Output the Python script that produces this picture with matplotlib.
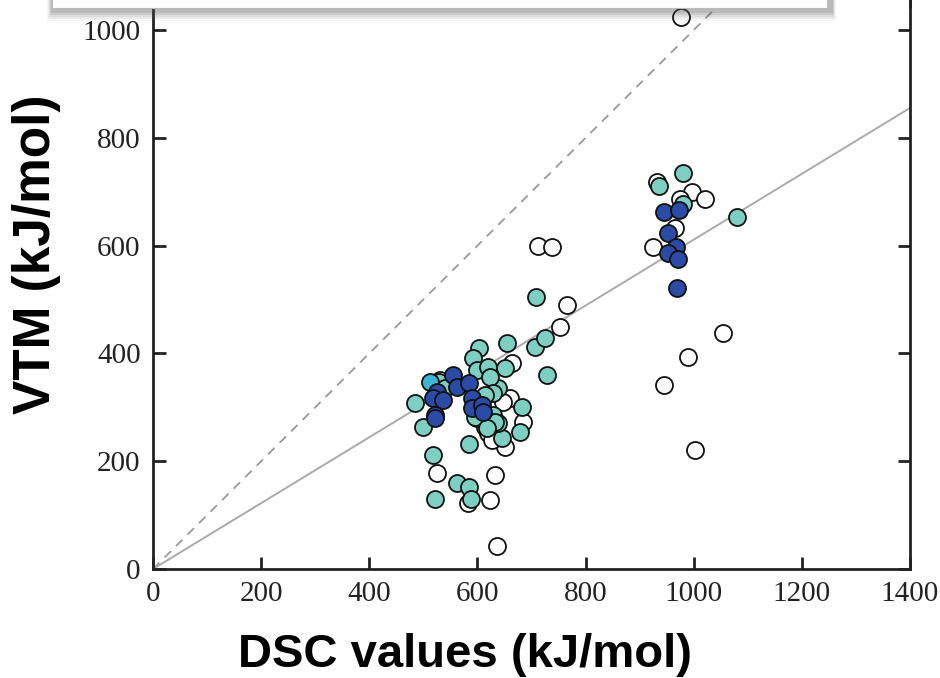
import numpy as np
import matplotlib
matplotlib.use("Agg")
import matplotlib.pyplot as plt
from matplotlib.patches import Rectangle

# open circles
white_dsc = [976, 932, 997, 1021, 975, 965, 925, 945, 990, 1054, 1002, 712, 738, 765, 753,
             664, 660, 684, 651, 633, 623, 636, 525, 583, 614, 620, 648, 600, 626, 530]
white_vtm = [1024, 718, 700, 686, 686, 633, 597, 341, 393, 438, 221, 599, 597, 490, 449,
             382, 317, 273, 226, 174, 128, 43, 178, 122, 263, 252, 310, 280, 240, 350]

# teal circles
teal_dsc = [980, 936, 980, 1080, 708, 655, 706, 725, 729, 651, 638, 682, 679, 645, 499, 518,
            562, 584, 588, 521, 584, 485, 603, 592, 600, 620, 623, 529, 629, 614, 629, 595,
            638, 633, 618, 540]
teal_vtm = [735, 711, 677, 653, 505, 419, 412, 429, 360, 373, 336, 301, 254, 243, 263, 212,
            160, 152, 130, 130, 232, 308, 410, 391, 369, 375, 356, 347, 326, 323, 286, 282,
            270, 273, 262, 335]

# dark blue circles
blue_dsc = [945, 973, 952, 967, 952, 971, 969, 555, 562, 584, 525, 518, 536, 590, 590, 608,
            610, 521, 521]
blue_vtm = [662, 666, 624, 597, 586, 575, 521, 360, 338, 345, 328, 317, 313, 317, 299, 304,
            291, 286, 280]

cyan_dsc = [512]
cyan_vtm = [347]

fit_slope = 0.611
x_ticks = [0, 200, 400, 600, 800, 1000, 1200, 1400]
y_ticks = [0, 200, 400, 600, 800, 1000]

fig = plt.figure(figsize=(9.4, 6.78), dpi=100)
ax = fig.add_axes([0.1628, 0.1608, 0.8053, 0.8466])

xl = np.array([0, 1400])
ax.plot(xl, xl, color="#999999", lw=1.3, ls=(0, (5, 4)), zorder=1)
ax.plot(xl, fit_slope * xl, color="#aaaaaa", lw=1.4, zorder=1)

kw = dict(s=150, edgecolors="#111111", linewidths=1.3, zorder=3)
ax.scatter(white_dsc, white_vtm, facecolors="white", **kw)
ax.scatter(teal_dsc, teal_vtm, facecolors="#7dd0c1", **kw)
ax.scatter(cyan_dsc, cyan_vtm, facecolors="#3cb6d4", **kw)
ax.scatter(blue_dsc, blue_vtm, facecolors="#2c4ba6", **kw)

ax.set_xlim(0, 1400)
ax.set_ylim(0, 1065)
ax.set_xticks(x_ticks)
ax.set_yticks(y_ticks)
ax.tick_params(direction="in", length=9, width=2, top=True, right=True,
               labelsize=21, colors="#222222", pad=9)
for lab in ax.get_xticklabels() + ax.get_yticklabels():
    lab.set_fontfamily("Liberation Serif")
for sp in ax.spines.values():
    sp.set_linewidth(2)
    sp.set_color("#222222")

ax.set_xlabel("DSC values (kJ/mol)", fontsize=34, fontweight="bold",
              fontfamily="Liberation Sans")
ax.xaxis.set_label_coords(0.412, -0.112)
ax.set_ylabel("VTM (kJ/mol)", fontsize=37, fontweight="bold",
              fontfamily="Liberation Sans")
ax.yaxis.set_label_coords(-0.122, 0.549)

# box cut off at the top edge, with soft shadow
for i, a in enumerate([0.05, 0.07, 0.09, 0.12, 0.15]):
    off = (5 - i) * 0.003
    fig.patches.append(Rectangle((0.055 - off * 0.3, 0.984 - off), 0.83 + off * 0.6, 0.1,
                                 transform=fig.transFigure, facecolor="#555555",
                                 alpha=a, edgecolor="none", zorder=5))
fig.patches.append(Rectangle((0.055, 0.988), 0.825, 0.1, transform=fig.transFigure,
                             facecolor="white", edgecolor="#bbbbbb", lw=0.8, zorder=6))

fig.savefig("out.png", dpi=100)
